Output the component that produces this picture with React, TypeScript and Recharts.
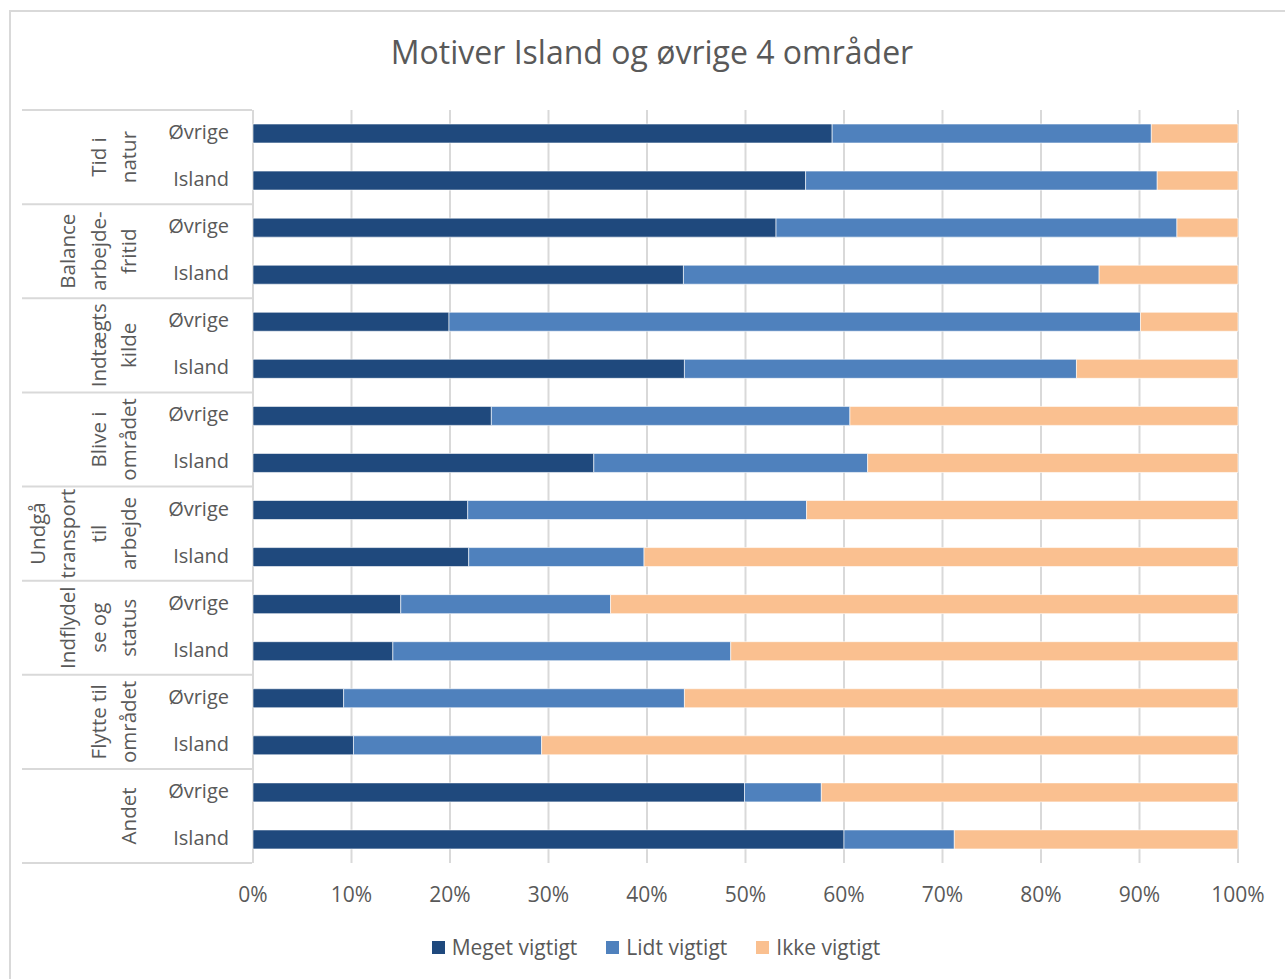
import { Bar, BarChart, CartesianGrid, XAxis, YAxis } from "recharts";

const GROUP_LINES = [
	["Tid i", "natur"],
	["Balance", "arbejde-", "fritid"],
	["Indtægts", "kilde"],
	["Blive i", "området"],
	["Undgå", "transport", "til", "arbejde"],
	["Indflydel", "se og", "status"],
	["Flytte til", "området"],
	["Andet"],
];
const SUBS = ["Øvrige", "Island"];

const MEGET = [58.8, 56.1, 53.1, 43.7, 19.9, 43.8, 24.2, 34.6, 21.8, 21.9, 15.0, 14.2, 9.2, 10.2, 49.9, 60.0];
const LIDT = [32.4, 35.7, 40.7, 42.2, 70.2, 39.8, 36.4, 27.8, 34.4, 17.8, 21.3, 34.3, 34.6, 19.1, 7.8, 11.2];
const IKKE = [8.8, 8.2, 6.2, 14.1, 9.9, 16.4, 39.4, 37.6, 43.8, 60.3, 63.7, 51.5, 56.2, 70.7, 42.3, 28.8];
const X_TICKS = [0, 10, 20, 30, 40, 50, 60, 70, 80, 90, 100];

const SERIES = [
	{ key: "meget", name: "Meget vigtigt", color: "#1F497D" },
	{ key: "lidt", name: "Lidt vigtigt", color: "#4F81BD" },
	{ key: "ikke", name: "Ikke vigtigt", color: "#FAC090" },
];

const FONT = "'Open Sans', sans-serif";
const TEXT = "#595959";
const LINE = "#d9d9d9";

const W = 1285;
const H = 979;
const MARGIN = { top: 110, right: 47, left: 0, bottom: 0 };
const Y_AXIS_W = 253;
const X_AXIS_H = 116;

const rows = GROUP_LINES.flatMap((_, g) =>
	SUBS.map((sub, s) => {
		const i = g * 2 + s;
		return { id: `${g}-${sub}`, group: g, sub, meget: MEGET[i], lidt: LIDT[i], ikke: IKKE[i] };
	}),
);

const BAND = (H - MARGIN.top - MARGIN.bottom - X_AXIS_H) / rows.length;

function CategoryTick({ y, index }: { y?: number; index?: number }) {
	const row = rows[index ?? 0];
	const yy = y ?? 0;
	const lines = GROUP_LINES[row.group];
	const isFirst = index! % 2 === 0;
	const isLast = index === rows.length - 1;
	const gy = yy + BAND / 2;
	return (
		<g>
			<text
				x={229}
				y={yy - 2}
				textAnchor="end"
				dominantBaseline="central"
				fill={TEXT}
				fontSize={20}
				fontFamily={FONT}
			>
				{row.sub}
			</text>
			{isFirst && (
				<line x1={22} x2={252} y1={yy - BAND / 2} y2={yy - BAND / 2} stroke={LINE} strokeWidth={2} />
			)}
			{isLast && (
				<line x1={22} x2={252} y1={yy + BAND / 2} y2={yy + BAND / 2} stroke={LINE} strokeWidth={2} />
			)}
			{isFirst &&
				lines.map((ln, k) => {
					const lx = 128 - (lines.length - 1 - k) * 30.5;
					return (
						<text
							key={k}
							x={lx}
							y={gy}
							transform={`rotate(-90 ${lx} ${gy})`}
							textAnchor="middle"
							dominantBaseline="central"
							fill={TEXT}
							fontSize={20.5}
							fontFamily={FONT}
						>
							{ln}
						</text>
					);
				})}
		</g>
	);
}

export default function App() {
	return (
		<div
			style={{
				position: "absolute",
				left: 0,
				top: 0,
				width: W,
				height: H,
				overflow: "hidden",
				background: "#fff",
				fontFamily: FONT,
			}}
		>
			<div
				style={{
					position: "absolute",
					left: 9,
					top: 10,
					width: W + 20,
					height: H + 20,
					border: `2px solid ${LINE}`,
				}}
			/>
			<div
				style={{
					position: "absolute",
					top: 30,
					left: 0,
					width: 1304,
					textAlign: "center",
					fontSize: 32,
					color: TEXT,
				}}
			>
				Motiver Island og øvrige 4 områder
			</div>
			<div style={{ position: "absolute", left: 0, top: 0 }}>
				<BarChart
					width={W}
					height={H}
					data={rows}
					layout="vertical"
					margin={MARGIN}
					barSize={19}
				>
					<CartesianGrid horizontal={false} stroke={LINE} strokeWidth={2} />
					<XAxis
						type="number"
						domain={[0, 100]}
						ticks={X_TICKS}
						height={X_AXIS_H}
						axisLine={false}
						tickLine={false}
						tickMargin={18}
						tickFormatter={(v: number) => `${v}%`}
						tick={{ fill: TEXT, fontSize: 21, fontFamily: FONT }}
					/>
					<YAxis
						type="category"
						dataKey="id"
						width={Y_AXIS_W}
						interval={0}
						axisLine={false}
						tickLine={false}
						tick={<CategoryTick />}
					/>
					{SERIES.map((s) => (
						<Bar
							key={s.key}
							dataKey={s.key}
							name={s.name}
							stackId="a"
							fill={s.color}
							stroke="#ffffff"
							strokeWidth={0.6}
							isAnimationActive={false}
						/>
					))}
				</BarChart>
			</div>
			<div
				style={{
					position: "absolute",
					top: 933,
					left: 0,
					width: 1312,
					display: "flex",
					justifyContent: "center",
					gap: 29,
					fontSize: 21,
					color: TEXT,
				}}
			>
				{SERIES.map((s) => (
					<div key={s.key} style={{ display: "flex", alignItems: "center", gap: 7 }}>
						<span style={{ width: 13, height: 13, background: s.color, display: "inline-block" }} />
						<span>{s.name}</span>
					</div>
				))}
			</div>
		</div>
	);
}
